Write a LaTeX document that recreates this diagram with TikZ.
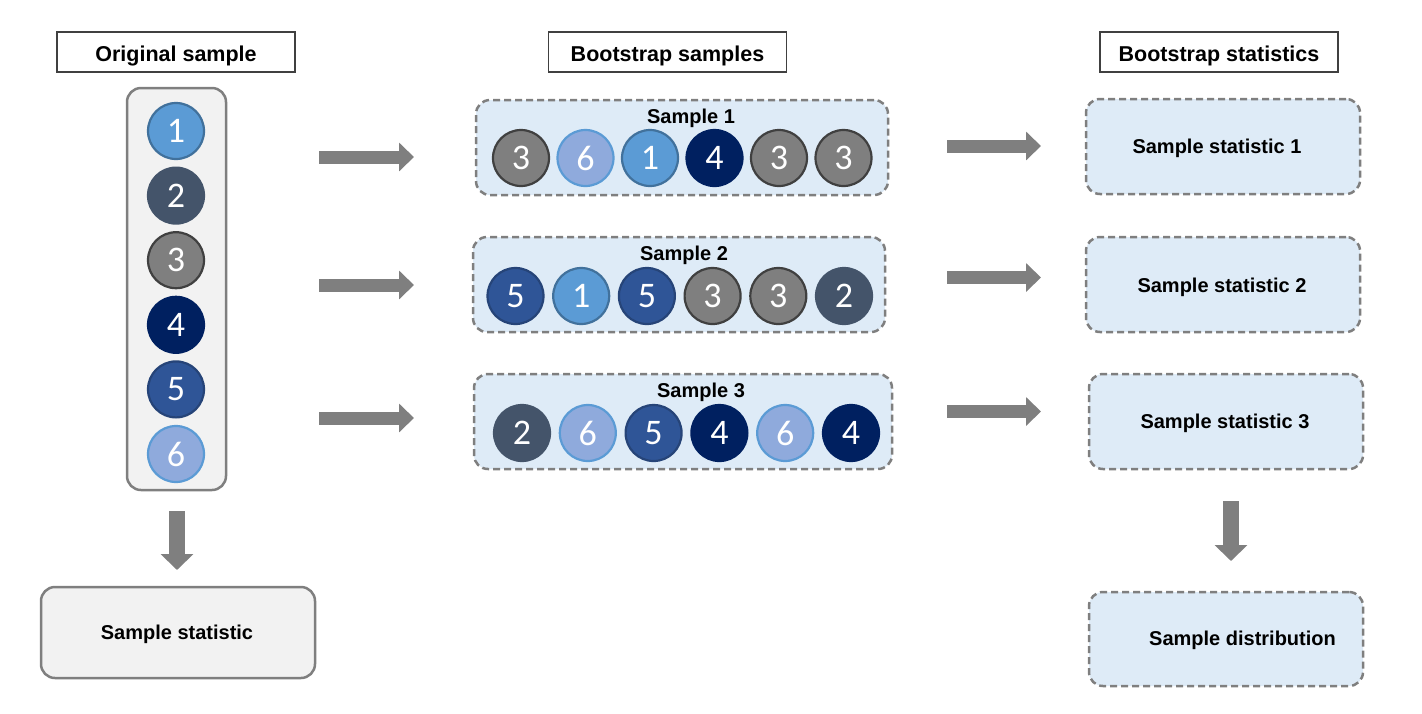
\documentclass[tikz,border=0pt]{standalone}
\usepackage{fontspec}
\setmainfont{Liberation Sans}
\newfontfamily\digitfont{Carlito}
\usetikzlibrary{arrows.meta, positioning}

\definecolor{fill1}{HTML}{5B9BD5} \definecolor{edge1}{HTML}{41719C}
\definecolor{fill2}{HTML}{44546A} \definecolor{edge2}{HTML}{44546A}
\definecolor{fill3}{HTML}{7F7F7F} \definecolor{edge3}{HTML}{404040}
\definecolor{fill4}{HTML}{002060} \definecolor{edge4}{HTML}{002060}
\definecolor{fill5}{HTML}{2F5597} \definecolor{edge5}{HTML}{264478}
\definecolor{fill6}{HTML}{8FAADC} \definecolor{edge6}{HTML}{5B9BD5}
\definecolor{boxgray}{HTML}{7F7F7F}
\definecolor{lightblue}{HTML}{DEEBF7}
\definecolor{lightgray}{HTML}{F2F2F2}

\tikzset{
	ball/.style={circle, minimum size=56pt, inner sep=0pt, line width=2.2pt,
		text=white, font=\digitfont\fontsize{36}{36}\selectfont},
	header/.style={draw=black!75, line width=1.8pt, fill=white,
		minimum width=238pt, minimum height=40pt, text height=18pt, text depth=0pt,
		font=\bfseries\fontsize{21.5}{21.5}\selectfont},
	dashbox/.style={draw=boxgray, fill=lightblue, line width=2.5pt,
		dash pattern=on 7pt off 4pt, rounded corners=14pt},
	graybox/.style={draw=boxgray, fill=lightgray, line width=2.5pt, rounded corners=14pt},
	lbl/.style={font=\bfseries\fontsize{20}{20}\selectfont, inner sep=0pt},
	blockarrow/.style={draw=boxgray, line width=13pt,
		-{Triangle[width=28pt, length=15pt]}},
	downarrow/.style={draw=boxgray, line width=16pt,
		-{Triangle[width=32pt, length=16pt]}}
}

\begin{document}
\begin{tikzpicture}[x=1pt, y=-1pt]
	\useasboundingbox (0,0) rectangle (1422,713);

	% headers
	\node[header] (hOrig) at (176,52) {Original sample};
	\node[header] (hBoot) at (667.5,52) {Bootstrap samples};
	\node[header] (hStat) at (1219,52) {Bootstrap statistics};

	% original sample
	\node[graybox, minimum width=99pt, minimum height=402pt] (orig) at (176.5,289) {};
	\foreach \v in {1,...,6}
		\node[ball, fill=fill\v, draw=edge\v] (o\v) at (176,{131+64.6*(\v-1)}) {\v};

	\node[graybox, minimum width=274pt, minimum height=91pt] (ostat) at (178,632.5) {};
	\node[lbl] (ostatt) at (177,634) {Sample statistic};

	% bootstrap samples
	\node[dashbox, minimum width=412pt, minimum height=95pt] (s1) at (682,147.5) {};
	\node[dashbox, minimum width=412pt, minimum height=95pt] (s2) at (679,284.5) {};
	\node[dashbox, minimum width=418pt, minimum height=95pt] (s3) at (683,421.5) {};
	\node[lbl] (s1t) at (691,118.5) {Sample 1};
	\node[lbl] (s2t) at (684,255) {Sample 2};
	\node[lbl] (s3t) at (701,392) {Sample 3};

	\foreach \v [count=\i] in {3,6,1,4,3,3}
		\node[ball, fill=fill\v, draw=edge\v] (a\i) at ({521+64.5*(\i-1)},158) {\v};
	\foreach \v [count=\i] in {5,1,5,3,3,2}
		\node[ball, fill=fill\v, draw=edge\v] (b\i) at ({515.5+65.7*(\i-1)},296) {\v};
	\foreach \v [count=\i] in {2,6,5,4,6,4}
		\node[ball, fill=fill\v, draw=edge\v] (c\i) at ({522+65.8*(\i-1)},433) {\v};

	% bootstrap statistics
	\node[dashbox, minimum width=274pt, minimum height=95pt] (t1) at (1223,146.5) {};
	\node[dashbox, minimum width=274pt, minimum height=95pt] (t2) at (1223,284.5) {};
	\node[dashbox, minimum width=274pt, minimum height=95pt] (t3) at (1226,421.5) {};
	\node[dashbox, minimum width=274pt, minimum height=94pt] (dist) at (1226,639) {};
	\node[lbl] (t1t) at (1217,148) {Sample statistic 1};
	\node[lbl] (t2t) at (1222,287) {Sample statistic 2};
	\node[lbl] (t3t) at (1225,423) {Sample statistic 3};
	\node[lbl] (distt) at (1242.5,640) {Sample distribution};

	% arrows
	\foreach \y [count=\i] in {157,285,418} {
		\coordinate (l\i) at (319,\y);
		\coordinate (r\i) at (414,\y);
		\draw[blockarrow] (l\i) -- (r\i);
	}
	\foreach \y [count=\i] in {146,277.5,411.5} {
		\coordinate (m\i) at (947,\y);
		\coordinate (n\i) at (1041,\y);
		\draw[blockarrow] (m\i) -- (n\i);
	}
	\coordinate (dA) at (177,511);
	\coordinate (dB) at (177,570);
	\coordinate (dC) at (1231,501);
	\coordinate (dD) at (1231,561);
	\draw[downarrow] (dA) -- (dB);
	\draw[downarrow] (dC) -- (dD);
\end{tikzpicture}
\end{document}
